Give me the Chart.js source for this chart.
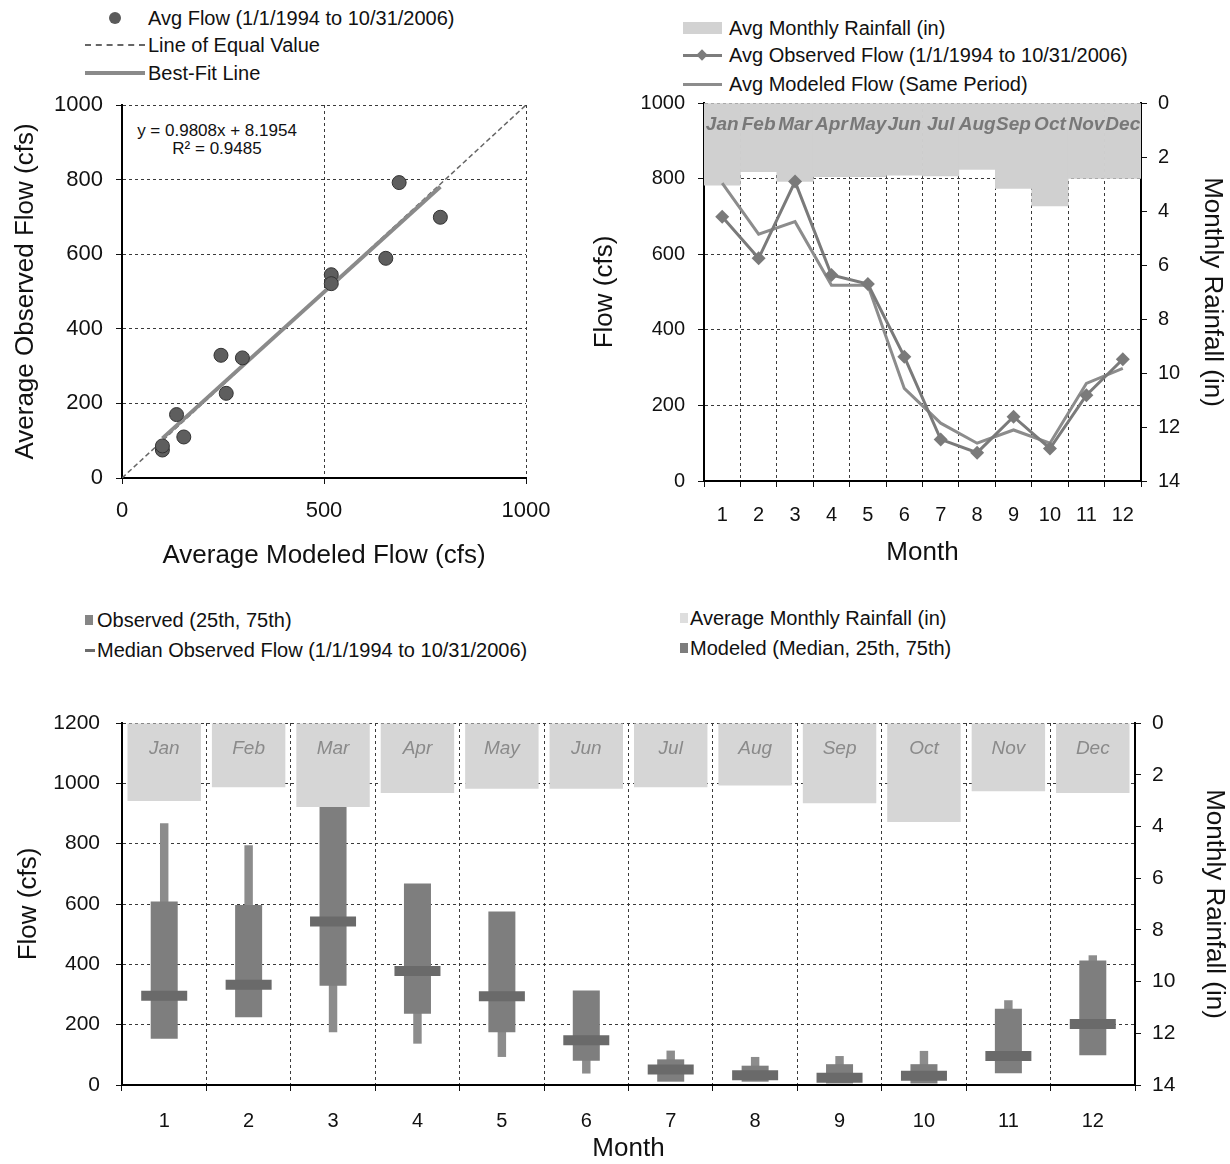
<!DOCTYPE html>
<html><head><meta charset="utf-8">
<script src="https://cdn.jsdelivr.net/npm/chart.js@4.4.0/dist/chart.umd.min.js"></script>
<style>
body{margin:0;background:#fff;width:1230px;height:1164px;position:relative;overflow:hidden;font-family:"Liberation Sans",Arial,sans-serif;color:#111}
canvas{position:absolute}
.lg{position:absolute;font-size:20px;line-height:24px;white-space:nowrap}
.sw{position:absolute}
.eq{position:absolute;font-size:17px;line-height:18px;text-align:center;white-space:nowrap}
</style></head><body>

<!-- legend A -->
<div class="sw" style="left:109px;top:12px;width:12px;height:12px;border-radius:50%;background:#5a5a5a"></div>
<div class="lg" style="left:148px;top:6px">Avg Flow (1/1/1994 to 10/31/2006)</div>
<div class="sw" style="left:85px;top:44px;width:60px;border-top:2px dashed #666"></div>
<div class="lg" style="left:148px;top:33px">Line of Equal Value</div>
<div class="sw" style="left:85px;top:71px;width:60px;height:4px;background:#8a8a8a"></div>
<div class="lg" style="left:148px;top:61px">Best-Fit Line</div>
<div class="eq" style="left:132px;top:122px;width:170px">y = 0.9808x + 8.1954<br>R² = 0.9485</div>

<!-- legend B -->
<div class="sw" style="left:683px;top:22px;width:39px;height:12px;background:#d2d2d2"></div>
<div class="lg" style="left:729px;top:16px">Avg Monthly Rainfall (in)</div>
<div class="sw" style="left:683px;top:54px;width:39px;height:3px;background:#7c7c7c"></div>
<div class="sw" style="left:698px;top:51px;width:8px;height:8px;background:#7c7c7c;transform:rotate(45deg)"></div>
<div class="lg" style="left:729px;top:43px">Avg Observed Flow (1/1/1994 to 10/31/2006)</div>
<div class="sw" style="left:683px;top:83px;width:39px;height:3px;background:#8c8c8c"></div>
<div class="lg" style="left:729px;top:72px">Avg Modeled Flow (Same Period)</div>

<!-- legend C -->
<div class="sw" style="left:85px;top:615px;width:8px;height:10px;background:#858585"></div>
<div class="lg" style="left:97px;top:608px">Observed (25th, 75th)</div>
<div class="sw" style="left:85px;top:649px;width:10px;height:3px;background:#6c6c6c"></div>
<div class="lg" style="left:97px;top:638px">Median Observed Flow (1/1/1994 to 10/31/2006)</div>
<div class="sw" style="left:680px;top:613px;width:8px;height:10px;background:#dedede"></div>
<div class="lg" style="left:690px;top:606px">Average Monthly Rainfall (in)</div>
<div class="sw" style="left:680px;top:643px;width:8px;height:10px;background:#7d7d7d"></div>
<div class="lg" style="left:690px;top:636px">Modeled (Median, 25th, 75th)</div>

<canvas id="cA" width="565" height="500" style="left:0;top:90px;width:565px;height:500px"></canvas>
<canvas id="cB" width="650" height="500" style="left:580px;top:90px;width:650px;height:500px"></canvas>
<canvas id="cC" width="1230" height="474" style="left:0;top:690px;width:1230px;height:474px"></canvas>

<script>
// ---------- data ----------
const months = ['1','2','3','4','5','6','7','8','9','10','11','12'];
const monthNames = ['Jan','Feb','Mar','Apr','May','Jun','Jul','Aug','Sep','Oct','Nov','Dec'];
const avgObserved = [699, 589, 792, 545, 521, 329, 110, 75, 170, 86, 227, 322];
const avgModeled  = [788, 653, 686, 518, 518, 245, 153, 100, 135, 100, 258, 298];
const rainTop     = [3.04, 2.54, 2.9, 2.73, 2.73, 2.67, 2.7, 2.46, 3.16, 3.81, 2.79, 2.79];
const fitSlope = 0.9808;
const fitIntercept = 8.1954;
const equalLine = [0, 1000];
const obs25     = [153, 225, 329, 236, 175, 80, 11, 11, 5, 5, 39, 99];
const obs75     = [608, 597, 950, 668, 575, 313, 85, 64, 69, 69, 253, 413];
const obsMedian = [296, 332, 542, 378, 294, 148, 51, 32, 24, 31, 96, 202];
const mod25     = [400, 400, 175, 137, 93, 38, 30, 20, 20, 20, 60, 150];
const mod75     = [868, 795, 500, 400, 300, 200, 114, 93, 96, 113, 281, 430];
const rainBottom = [3.02, 2.48, 3.25, 2.71, 2.54, 2.54, 2.48, 2.42, 3.1, 3.83, 2.64, 2.71];
const scatterTicks = {min: 0, max: 1000, xStep: 500, yStep: 200};
const flowTicksB = {min: 0, max: 1000, step: 200};
const flowTicksC = {min: 0, max: 1200, step: 200};
const rainTicks = {min: 0, max: 14, step: 2};

// ---------- style ----------
Chart.defaults.font.family = "'Liberation Sans', Arial, sans-serif";
Chart.defaults.color = '#111';
const plain = v => String(v);
const gridStyle = {color: '#3a3a3a', lineWidth: 1, tickLength: 6, tickColor: '#111'};
const dashBorder = {display: true, color: '#000', width: 2, dash: [3, 3]};
const common = {
  responsive: false, animation: false,
  plugins: {legend: {display: false}, tooltip: {enabled: false}},
  events: []
};
function fixV(w) { return s => { s.width = w; s.paddingTop = 0; s.paddingBottom = 0; }; }
function fixH(h) { return s => { s.height = h; s.paddingLeft = 0; s.paddingRight = 0; }; }

const barLabels = {
  id: 'barLabels',
  afterDatasetsDraw(chart, args, opts) {
    if (!opts || !opts.names) return;
    const meta = chart.getDatasetMeta(opts.index);
    const ctx = chart.ctx;
    ctx.save();
    ctx.font = opts.font;
    ctx.fillStyle = opts.color;
    ctx.textAlign = 'center';
    ctx.textBaseline = 'middle';
    meta.data.forEach((bar, i) => ctx.fillText(opts.names[i], bar.x, chart.chartArea.top + opts.offset));
    ctx.restore();
  }
};

// ---------- chart A : scatter ----------
const xmin = Math.min(...avgModeled), xmax = Math.max(...avgModeled);
new Chart(document.getElementById('cA'), {
  type: 'scatter',
  data: {datasets: [
    {label: 'Avg Flow (1/1/1994 to 10/31/2006)', data: avgModeled.map((x, i) => ({x, y: avgObserved[i]})),
     pointRadius: 7, pointBackgroundColor: '#5e5e5e', pointBorderColor: '#333', pointBorderWidth: 1, order: 1},
    {label: 'Best-Fit Line', type: 'line', data: [xmin, xmax].map(x => ({x, y: fitSlope * x + fitIntercept})),
     borderColor: '#8a8a8a', borderWidth: 4, pointRadius: 0, order: 2},
    {label: 'Line of Equal Value', type: 'line', data: equalLine.map(v => ({x: v, y: v})),
     borderColor: '#666', borderWidth: 1.5, borderDash: [5, 3], pointRadius: 0, order: 3}
  ]},
  options: Object.assign({}, common, {
    layout: {padding: {top: 15, right: 39, left: 0, bottom: 0}},
    scales: {
      x: {type: 'linear', min: scatterTicks.min, max: scatterTicks.max,
          ticks: {stepSize: scatterTicks.xStep, font: {size: 22}, padding: 14, callback: plain},
          grid: gridStyle, border: dashBorder,
          title: {display: true, text: 'Average Modeled Flow (cfs)', font: {size: 26}, padding: {top: 0, bottom: 19}},
          afterFit: fixH(112)},
      y: {type: 'linear', min: scatterTicks.min, max: scatterTicks.max,
          ticks: {stepSize: scatterTicks.yStep, font: {size: 22}, padding: 13, callback: plain},
          grid: gridStyle, border: dashBorder,
          title: {display: true, text: 'Average Observed Flow (cfs)', font: {size: 26}, padding: {top: 10, bottom: 0}},
          afterFit: fixV(122)}
    }
  })
});

// ---------- chart B : monthly averages ----------
new Chart(document.getElementById('cB'), {
  type: 'bar',
  data: {labels: months, datasets: [
    {type: 'line', label: 'Avg Observed Flow (1/1/1994 to 10/31/2006)', data: avgObserved, yAxisID: 'y',
     borderColor: '#7a7a7a', backgroundColor: '#7a7a7a', borderWidth: 3, pointStyle: 'rectRot', pointRadius: 7,
     pointBorderWidth: 0, tension: 0, order: 1},
    {type: 'line', label: 'Avg Modeled Flow (Same Period)', data: avgModeled, yAxisID: 'y',
     borderColor: '#8c8c8c', borderWidth: 3, pointRadius: 0, tension: 0, order: 2},
    {type: 'bar', label: 'Avg Monthly Rainfall (in)', data: rainTop, yAxisID: 'y2',
     backgroundColor: '#d0d0d0', barPercentage: 1, categoryPercentage: 1, order: 3}
  ]},
  plugins: [barLabels],
  options: Object.assign({}, common, {
    plugins: {legend: {display: false}, tooltip: {enabled: false},
      barLabels: {index: 2, names: monthNames, font: 'italic bold 19px "Liberation Sans", Arial, sans-serif', color: 'rgba(110,110,110,0.9)', offset: 22}},
    layout: {padding: {top: 13, right: 0, left: 0, bottom: 0}},
    scales: {
      x: {grid: Object.assign({offset: true}, gridStyle), border: dashBorder,
          ticks: {font: {size: 20}, padding: 16},
          title: {display: true, text: 'Month', font: {size: 26}, padding: {top: 0, bottom: 22}},
          afterFit: fixH(109)},
      y: {position: 'left', min: flowTicksB.min, max: flowTicksB.max,
          ticks: {stepSize: flowTicksB.step, font: {size: 20}, padding: 13, callback: plain},
          grid: gridStyle, border: dashBorder,
          title: {display: true, text: 'Flow (cfs)', font: {size: 26}, padding: {top: 9, bottom: 0}},
          afterFit: fixV(124)},
      y2: {position: 'right', reverse: true, min: rainTicks.min, max: rainTicks.max,
          ticks: {stepSize: rainTicks.step, font: {size: 20}, padding: 11, callback: plain},
          grid: {drawOnChartArea: false, tickLength: 6, tickColor: '#111'}, border: {color: '#000', width: 2},
          title: {display: true, text: 'Monthly Rainfall (in)', font: {size: 26}, padding: {top: 2, bottom: 0}},
          afterFit: fixV(89)}
    }
  })
});

// ---------- chart C : percentiles ----------
new Chart(document.getElementById('cC'), {
  type: 'bar',
  data: {labels: months, datasets: [
    {type: 'bar', label: 'Average Monthly Rainfall (in)', data: rainBottom, yAxisID: 'y2',
     backgroundColor: '#d6d6d6', barPercentage: 0.87, categoryPercentage: 1, grouped: false, order: 1},
    {type: 'line', label: 'Median Observed Flow (1/1/1994 to 10/31/2006)', data: obsMedian, yAxisID: 'y',
     showLine: false, pointStyle: 'line', pointRadius: 23, pointBorderWidth: 10,
     pointBorderColor: '#6a6a6a', borderColor: '#6a6a6a', order: 2},
    {type: 'bar', label: 'Observed (25th, 75th)', data: obs25.map((v, i) => [v, obs75[i]]), yAxisID: 'y',
     backgroundColor: '#7e7e7e', barPercentage: 0.32, categoryPercentage: 1, grouped: false, order: 3},
    {type: 'bar', label: 'Modeled (Median, 25th, 75th)', data: mod25.map((v, i) => [v, mod75[i]]), yAxisID: 'y',
     backgroundColor: '#8c8c8c', barPercentage: 0.1, categoryPercentage: 1, grouped: false, order: 4}
  ]},
  plugins: [barLabels],
  options: Object.assign({}, common, {
    plugins: {legend: {display: false}, tooltip: {enabled: false},
      barLabels: {index: 0, names: monthNames, font: 'italic 19px "Liberation Sans", Arial, sans-serif', color: '#8a8a8a', offset: 26}},
    layout: {padding: {top: 32, right: 0, left: 0, bottom: 0}},
    scales: {
      x: {grid: Object.assign({offset: true}, gridStyle), border: dashBorder,
          ticks: {font: {size: 20}, padding: 18},
          title: {display: true, text: 'Month', font: {size: 26}, padding: {top: 0, bottom: 0}},
          afterFit: fixH(79)},
      y: {position: 'left', min: flowTicksC.min, max: flowTicksC.max,
          ticks: {stepSize: flowTicksC.step, font: {size: 21}, padding: 16, callback: plain},
          grid: gridStyle, border: dashBorder,
          title: {display: true, text: 'Flow (cfs)', font: {size: 26}, padding: {top: 13, bottom: 0}},
          afterFit: fixV(122)},
      y2: {position: 'right', reverse: true, min: rainTicks.min, max: rainTicks.max,
          ticks: {stepSize: rainTicks.step, font: {size: 21}, padding: 11, callback: plain},
          grid: {drawOnChartArea: false, tickLength: 6, tickColor: '#111'}, border: {color: '#000', width: 2},
          title: {display: true, text: 'Monthly Rainfall (in)', font: {size: 26}, padding: {top: 0, bottom: 0}},
          afterFit: fixV(95)}
    }
  })
});
</script>
</body></html>
